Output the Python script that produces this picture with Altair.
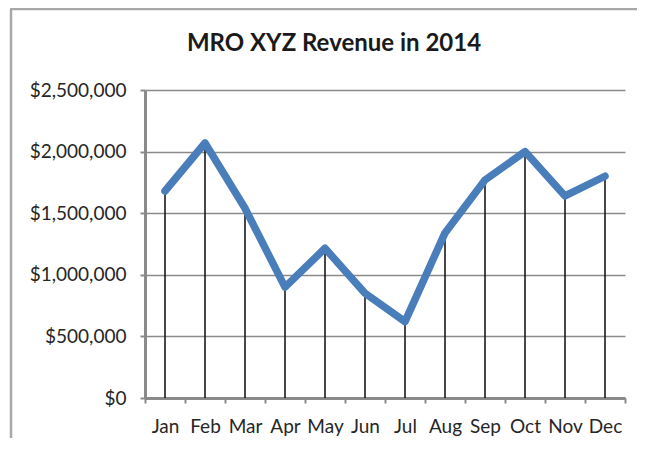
import altair as alt
import pandas as pd

months = ["Jan", "Feb", "Mar", "Apr", "May", "Jun", "Jul", "Aug", "Sep", "Oct", "Nov", "Dec"]
revenue = [1680000, 2070000, 1540000, 900000, 1215000, 850000,
           620000, 1340000, 1770000, 2000000, 1640000, 1800000]
y_ticks = [0, 500000, 1000000, 1500000, 2000000, 2500000]
title_text = ["MRO XYZ Revenue in 2014"]

df = pd.DataFrame({"month": months, "revenue": revenue})

FONT = "Lato"
GRID = "#8a8a8a"
FRAME = "#a8a8a8"

x_enc = alt.X(
    "month:N", sort=months, title=None,
    scale=alt.Scale(type="band", paddingInner=0, paddingOuter=0),
    axis=alt.Axis(labelAngle=0, tickBand="extent", tickSize=5, labelPadding=14,
                  domainColor=GRID, domainWidth=3, tickColor=GRID, tickWidth=2,
                  labelFont=FONT, labelFontSize=19, labelColor="#262626", grid=False),
)
y_enc = alt.Y(
    "revenue:Q", title=None,
    scale=alt.Scale(domain=[0, 2500000], nice=False),
    axis=alt.Axis(values=y_ticks, format="$,.0f", tickSize=5, labelPadding=14,
                  domainColor=GRID, domainWidth=3, tickColor=GRID, tickWidth=2,
                  grid=True, gridColor=GRID, gridWidth=1.6, gridOpacity=1,
                  labelFont=FONT, labelFontSize=19, labelColor="#262626"),
)

base = alt.Chart(df)
one = alt.Chart(pd.DataFrame({"title": title_text}))

frame_left = one.mark_rule(color=FRAME, strokeWidth=2.5).encode(
    x=alt.value(-134), y=alt.value(-81), y2=alt.value(348)
)
frame_top = one.mark_rule(color=FRAME, strokeWidth=2.5).encode(
    x=alt.value(-135), x2=alt.value(492), y=alt.value(-81)
)

title = one.mark_text(font=FONT, fontSize=24, fontWeight="bold", color="#1a1a1a",
                      align="center", baseline="alphabetic").encode(
    text="title:N", x=alt.value(189), y=alt.value(-39)
)

drops = base.mark_rule(color="#1a1a1a", strokeWidth=1.6).encode(
    x=x_enc, y=y_enc, y2=alt.datum(0)
)

line = base.mark_line(color="#4a7ebb", strokeWidth=7.5, strokeCap="round",
                      strokeJoin="round").encode(x=x_enc, y=y_enc)

chart = alt.layer(frame_left, frame_top, title, drops, line).properties(
    width=480, height=308,
    autosize=alt.AutoSizeParams(type="none"),
    padding={"left": 137, "top": 82, "right": 12, "bottom": 40},
).configure_view(stroke=None)

chart.save("out.html", embed_options={"renderer": "svg", "actions": False})
